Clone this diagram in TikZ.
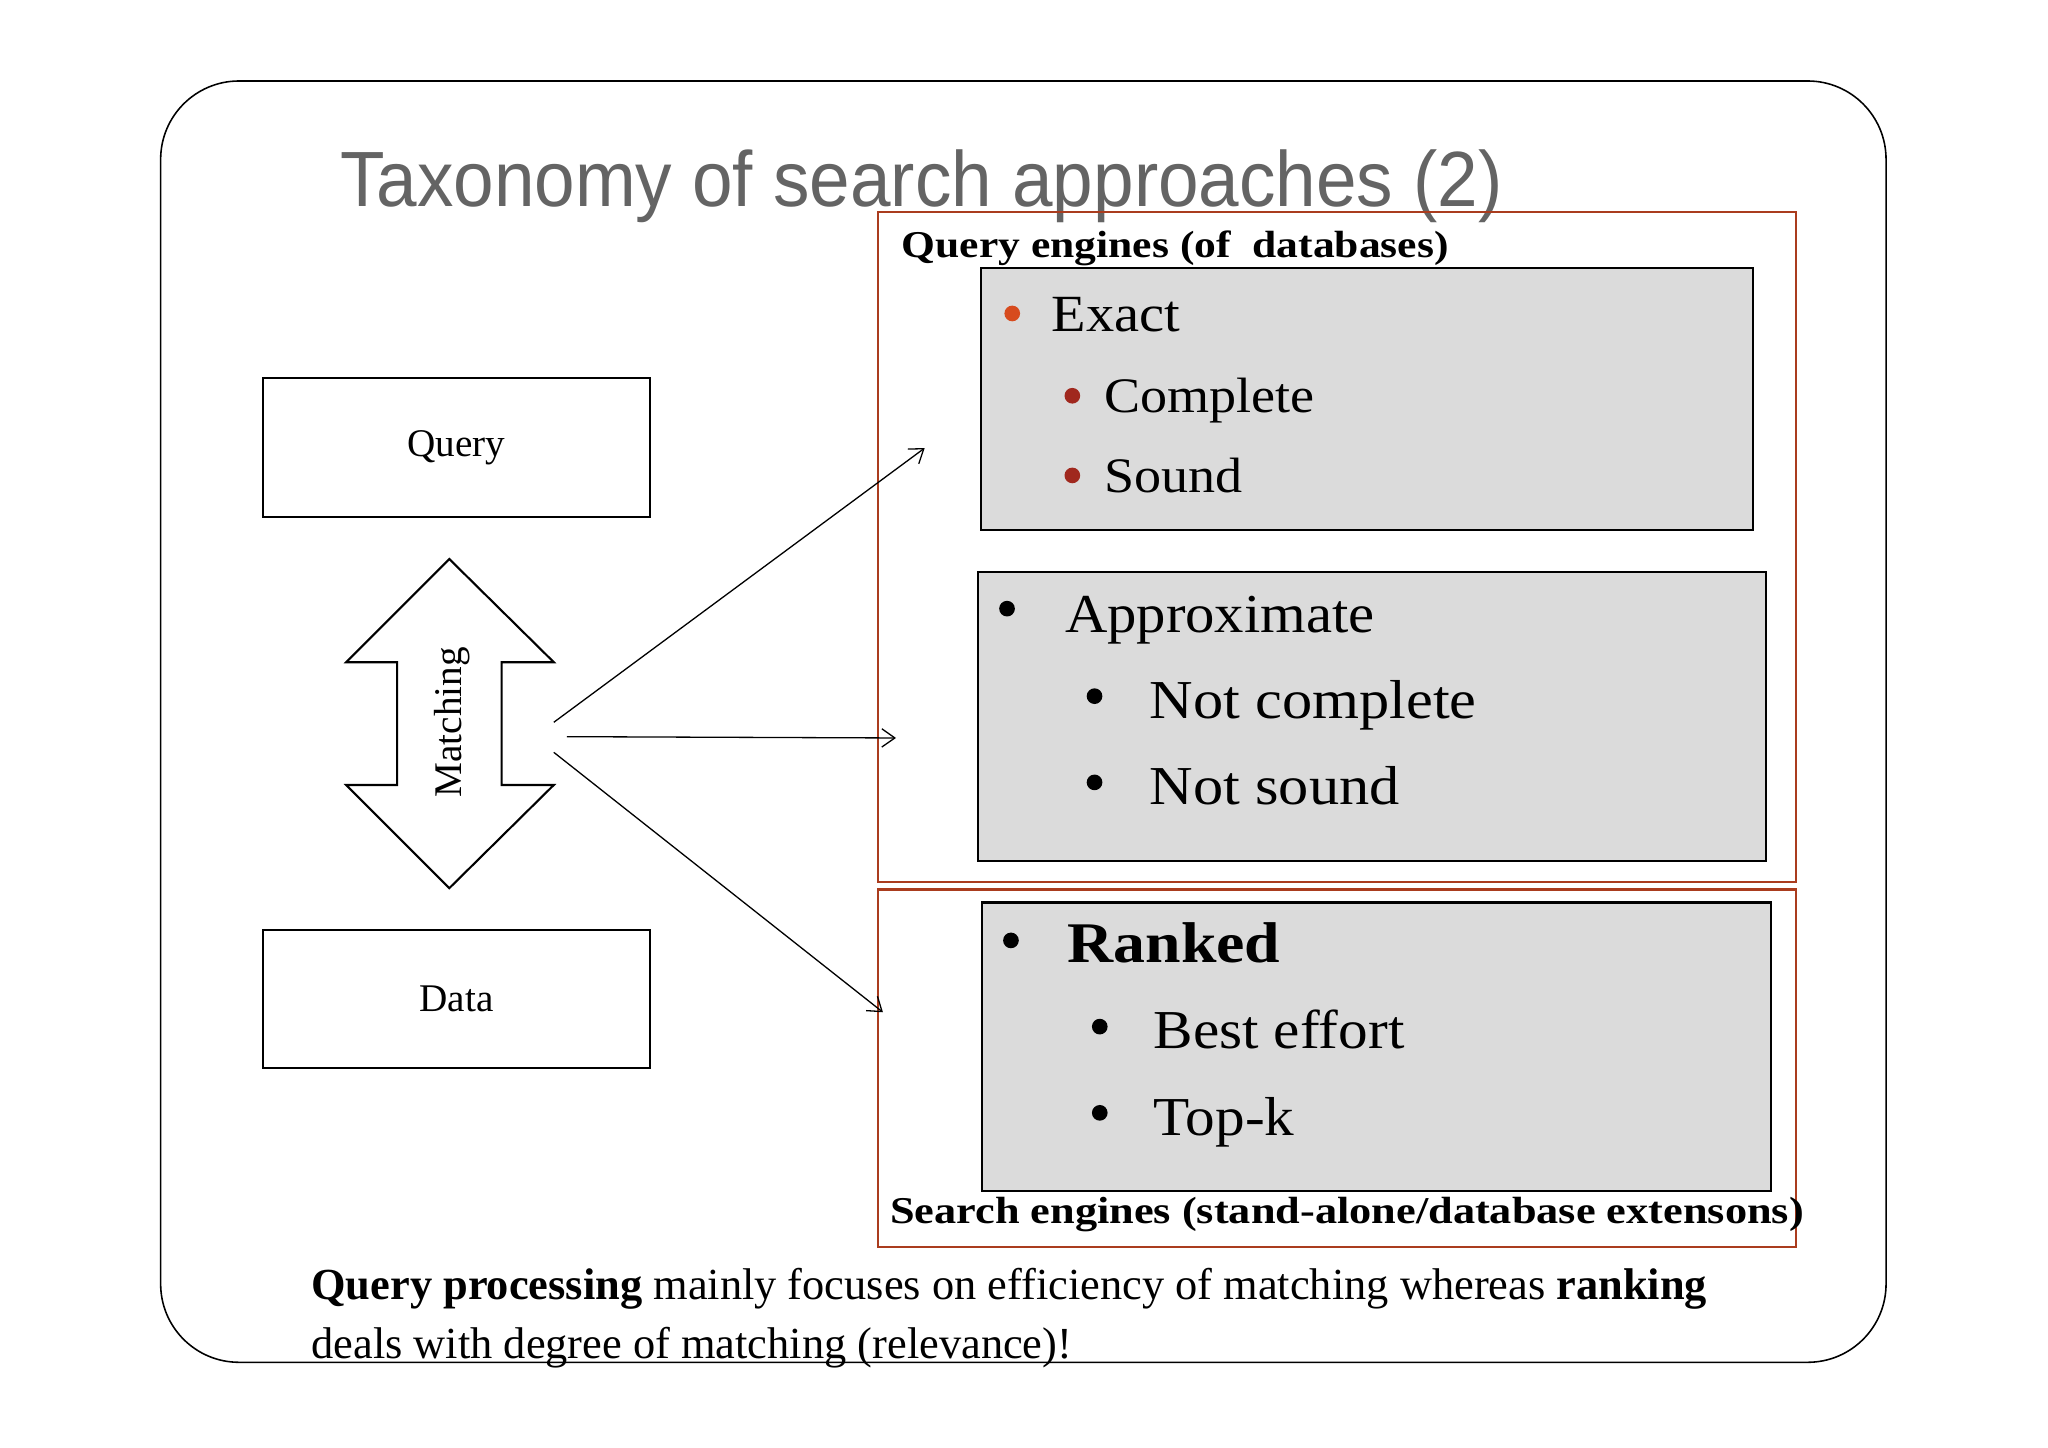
\documentclass[tikz,border=0pt]{standalone}
\usepackage{fontspec}
\usepackage{graphicx}
\usetikzlibrary{arrows.meta}
\setmainfont{Liberation Serif}
\newfontfamily\titlefont{Liberation Sans}
\definecolor{redline}{RGB}{170,60,30}
\definecolor{orb}{RGB}{215,75,30}
\definecolor{drb}{RGB}{160,40,30}
\definecolor{titlegray}{RGB}{100,100,100}
\newcommand{\hs}[2]{\scalebox{#1}[1]{#2}}
\begin{document}
\begin{tikzpicture}[x=0.5pt,y=-0.5pt,
  redbox/.style={draw=redline,line width=0.8pt},
  graybox/.style={draw=black,fill=gray!28,line width=0.8pt},
  wbox/.style={draw=black,line width=0.8pt,fill=white},
  txt/.style={anchor=base west,inner sep=0pt},
  big/.style={txt,font=\fontsize{21}{24}\selectfont},
  lab/.style={txt,font=\bfseries\fontsize{14.5}{17}\selectfont},
  bul/.style={circle,inner sep=0pt,minimum size=6pt},
  arr/.style={-{Straight Barb[length=5pt,width=7pt]},line width=0.5pt}]
\useasboundingbox (0,0) rectangle (1568,1108);
\draw[line width=0.6pt,rounded corners=30pt] (123,62) rectangle (1444,1043);
\node[txt,font=\titlefont\fontsize{30}{34}\selectfont,text=titlegray] (title) at (260,158) {\hs{0.93}{Taxonomy of search approaches (2)}};
% red boxes
\draw[redbox] (672,162) rectangle (1375,675);
\draw[redbox] (672,681) rectangle (1375,955);
\node[lab] (qe) at (690,197) {\hs{1.15}{Query engines (of\ \ databases)}};
\node[lab] (se) at (681,937) {\hs{1.17}{Search engines (stand-alone/database extensons)}};
% gray boxes
\draw[graybox] (751,205) rectangle (1342,406);
\draw[graybox] (749,438) rectangle (1352,659);
\draw[graybox] (752,691) rectangle (1356,912);
% box A
\node[bul,fill=orb] (b1) at (775,240) {};
\node[big,font=\fontsize{20}{24}\selectfont] (t1) at (805,254) {\hs{1.08}{Exact}};
\node[bul,fill=drb] (b2) at (821,303) {};
\node[big,font=\fontsize{19}{24}\selectfont] (t2) at (845,316) {\hs{1.09}{Complete}};
\node[bul,fill=drb] (b3) at (821,364) {};
\node[big,font=\fontsize{19}{24}\selectfont] (t3) at (845,377) {\hs{1.09}{Sound}};
% box B
\node[bul,fill=black] (b4) at (771,466) {};
\node[big] (t4) at (815,484) {\hs{1.07}{Approximate}};
\node[bul,fill=black] (b5) at (838,533) {};
\node[big] (t5) at (880,550) {\hs{1.1}{Not complete}};
\node[bul,fill=black] (b6) at (838,599) {};
\node[big] (t6) at (880,616) {\hs{1.1}{Not sound}};
% box C
\node[bul,fill=black] (b7) at (774,720) {};
\node[big,font=\bfseries\fontsize{22}{24}\selectfont] (t7) at (817,737) {\hs{1.11}{Ranked}};
\node[bul,fill=black] (b8) at (842,786) {};
\node[big] (t8) at (883,803) {\hs{1.08}{Best effort}};
\node[bul,fill=black] (b9) at (842,852) {};
\node[big] (t9) at (883,869) {\hs{1.08}{Top-k}};
% left
\node[wbox,minimum width=148pt,minimum height=53pt,font=\fontsize{15}{18}\selectfont] (query) at (349.5,342.5) {Query};
\node[wbox,minimum width=148pt,minimum height=53pt,font=\fontsize{15}{18}\selectfont] (data) at (349.5,765) {Data};
\draw[line width=0.8pt,fill=white] (344,428) -- (424,507) -- (384,507) -- (384,601) -- (424,601) -- (344,680) -- (265,601) -- (304,601) -- (304,507) -- (265,507) -- cycle;
\node[rotate=90,font=\fontsize{15}{18}\selectfont,inner sep=0pt] (match) at (346,553) {Matching};
\coordinate (s1) at (424,553);
\coordinate (s2) at (434,564);
\coordinate (s3) at (424,576);
\coordinate (e1) at (708,343);
\coordinate (e2) at (686,565);
\coordinate (e3) at (676,775);
\draw[arr] (s1) -- (e1);
\draw[arr] (s2) -- (e2);
\draw[arr] (s3) -- (e3);
% bottom text
\node[txt,font=\fontsize{17}{20}\selectfont] (bt1) at (238,995) {\textbf{Query processing} mainly focuses on efficiency of matching whereas \textbf{ranking}};
\node[txt,font=\fontsize{17}{20}\selectfont] (bt2) at (238,1040) {deals with degree of matching (relevance)!};
\end{tikzpicture}
\end{document}
